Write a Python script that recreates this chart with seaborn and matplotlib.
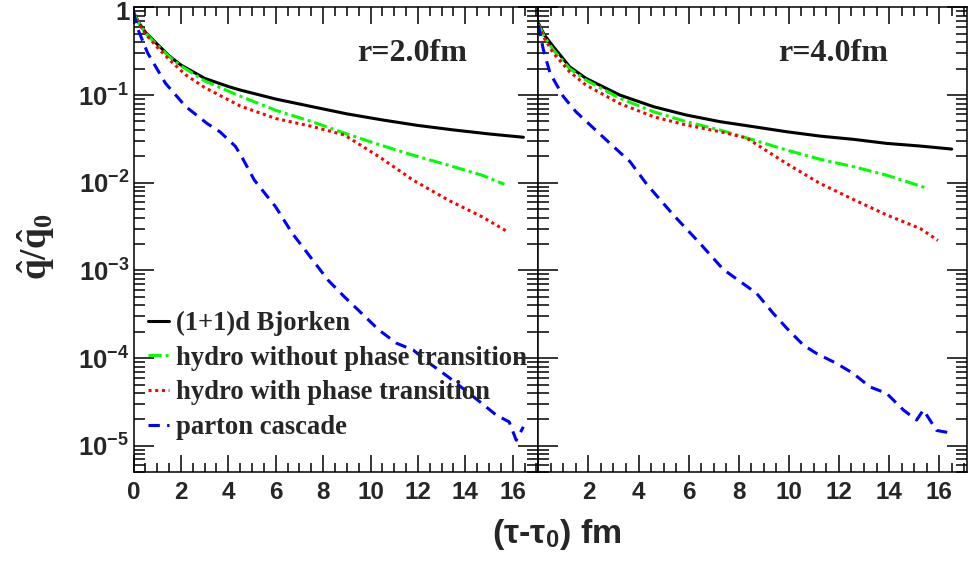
import numpy as np
import pandas as pd
import matplotlib
matplotlib.use("Agg")
import matplotlib.pyplot as plt
import matplotlib.ticker as mticker
import matplotlib.transforms as mtransforms
import seaborn as sns

# r = 2.0 fm panel
bj_t_r2 = [0, 0.25, 0.5, 1, 1.5, 2, 3, 4, 4.5, 6, 7.5, 9, 10.5, 12, 13.5, 15, 16.45]
bj_q_r2 = [0.88, 0.65, 0.52, 0.38, 0.28, 0.22, 0.155, 0.125, 0.114, 0.090, 0.074, 0.061,
           0.052, 0.045, 0.040, 0.036, 0.033]
nopt_t_r2 = [0, 0.25, 0.5, 1, 1.5, 2, 3, 4.5, 6, 7.5, 9, 10.4, 11.8, 13.3, 14.7, 15.65]
nopt_q_r2 = [0.86, 0.64, 0.51, 0.37, 0.275, 0.215, 0.145, 0.097, 0.067, 0.050, 0.036,
             0.027, 0.0206, 0.0158, 0.0122, 0.0096]
pt_t_r2 = [0, 0.25, 0.5, 1, 1.6, 2.2, 3, 4.5, 6, 7.5, 8.9, 10.4, 11.8, 13.3, 14.7, 15.75]
pt_q_r2 = [0.85, 0.63, 0.50, 0.35, 0.24, 0.17, 0.122, 0.075, 0.054, 0.044, 0.035,
           0.0195, 0.0107, 0.0063, 0.0041, 0.0028]
pc_t_r2 = [0, 0.17, 0.6, 1.35, 2.2, 3.1, 3.65, 4.3, 4.6, 5.1, 6, 6.7, 7.45, 8.2, 8.9, 9.5,
           10.35, 11.1, 11.8, 12.5, 13.25, 14, 14.7, 15.3, 15.85, 16.15, 16.45]
pc_q_r2 = [0.88, 0.575, 0.30, 0.136, 0.074, 0.0475, 0.038, 0.026, 0.019, 0.0107, 0.0053,
           0.00265, 0.00144, 7.8e-4, 5.0e-4, 3.5e-4, 2.1e-4, 1.48e-4, 1.24e-4, 8.7e-5,
           6.2e-5, 4.3e-5, 3.05e-5, 2.25e-5, 1.88e-5, 1.16e-5, 1.65e-5]

# r = 4.0 fm panel
bj_t_r4 = [0, 0.25, 0.6, 1.25, 1.9, 3.25, 4.6, 5.9, 7.25, 8.6, 9.9, 11.25, 12.6, 13.9, 15.25, 16.5]
bj_q_r4 = [0.66, 0.48, 0.356, 0.21, 0.155, 0.100, 0.0736, 0.0592, 0.0497, 0.0435, 0.0382,
           0.034, 0.0312, 0.0281, 0.0262, 0.0242]
nopt_t_r4 = [0, 0.25, 0.6, 1.25, 1.9, 3.25, 4.6, 5.9, 7.25, 8.6, 9.9, 11.25, 12.6, 13.9, 15.55]
nopt_q_r4 = [0.64, 0.46, 0.326, 0.20, 0.148, 0.092, 0.0645, 0.0497, 0.0399, 0.0307, 0.0236,
             0.0185, 0.0152, 0.0122, 0.0086]
pt_t_r4 = [0, 0.25, 0.6, 1.25, 1.9, 3.25, 4.6, 5.9, 7.25, 8.3, 8.6, 9.9, 11.25, 12.6, 13.9,
           15.25, 15.95]
pt_q_r4 = [0.62, 0.44, 0.30, 0.184, 0.13, 0.080, 0.0566, 0.0455, 0.0382, 0.0325, 0.0287,
           0.0166, 0.0098, 0.0064, 0.0043, 0.0030, 0.0022]
pc_t_r4 = [0, 0.2, 0.47, 1.0, 1.5, 2.86, 3.66, 4.33, 5.39, 6.45, 7.38, 8.71, 9.38, 9.92, 10.58,
           11.11, 11.91, 12.57, 13.24, 13.9, 14.57, 15.1, 15.37, 15.9, 16.43]
pc_q_r4 = [0.63, 0.33, 0.177, 0.096, 0.0645, 0.0281, 0.0174, 0.0096, 0.0043, 0.00204, 0.00103,
           5.5e-4, 3.24e-4, 2.19e-4, 1.41e-4, 1.13e-4, 8.7e-5, 6.7e-5, 4.7e-5, 3.98e-5,
           2.57e-5, 1.97e-5, 2.57e-5, 1.5e-5, 1.41e-5]

models = ["(1+1)d Bjorken", "hydro without phase transition",
          "hydro with phase transition", "parton cascade"]
panel_labels = ["r=2.0fm", "r=4.0fm"]
ytick_vals = [1, 1e-1, 1e-2, 1e-3, 1e-4, 1e-5]
ytick_text = ["1"] + [r"$\mathsf{10^{-%d}}$" % k for k in range(1, 6)]

colors = {models[0]: "black", models[1]: "#00ff00", models[2]: "#ff0000", models[3]: "#0000ff"}
dashes = {models[0]: "", models[1]: (4.3, 1.3, 1.0, 1.3), models[2]: (1.0, 1.2),
          models[3]: (3.7, 2.4)}


def make_frame(series):
    parts = []
    for name, (t, q) in zip(models, series):
        parts.append(pd.DataFrame({"t": t, "q": q, "model": name}))
    return pd.concat(parts, ignore_index=True)


df_r2 = make_frame([(bj_t_r2, bj_q_r2), (nopt_t_r2, nopt_q_r2), (pt_t_r2, pt_q_r2), (pc_t_r2, pc_q_r2)])
df_r4 = make_frame([(bj_t_r4, bj_q_r4), (nopt_t_r4, nopt_q_r4), (pt_t_r4, pt_q_r4), (pc_t_r4, pc_q_r4)])

sns.set_style("ticks")
plt.rcParams.update({
    "font.family": ["Liberation Sans", "DejaVu Sans"],
    "font.weight": "bold",
    "mathtext.fontset": "custom",
    "mathtext.sf": "Liberation Sans:bold",
    "mathtext.bf": "Liberation Serif:bold",
    "mathtext.rm": "Liberation Serif:bold",
    "mathtext.it": "Liberation Serif:bold:italic",
    "axes.linewidth": 1.1,
    "axes.edgecolor": "black",
})

fig = plt.figure(figsize=(9.69, 5.66), dpi=100)
W, H = 969.0, 566.0
bottom = 1 - 472.3 / H
height = (472.3 - 6.7) / H
ax1 = fig.add_axes([133.5 / W, bottom, (538.3 - 133.5) / W, height])
ax2 = fig.add_axes([538.3 / W, bottom, (966.7 - 538.3) / W, height])

for ax, df, lab, xmax, lx in [(ax1, df_r2, panel_labels[0], 17.08, 0.687),
                               (ax2, df_r4, panel_labels[1], 17.1, 0.689)]:
    sns.lineplot(data=df, x="t", y="q", hue="model", style="model", hue_order=models,
                 style_order=models, palette=colors, dashes=dashes, lw=2.2,
                 errorbar=None, legend=False, ax=ax, sort=False)
    ax.set_yscale("log")
    ax.set_xlim(0, xmax)
    ax.set_ylim(5e-6, 1.016)
    ax.set_xlabel("")
    ax.set_ylabel("")
    ax.xaxis.set_major_locator(mticker.MultipleLocator(2))
    ax.xaxis.set_minor_locator(mticker.MultipleLocator(0.5))
    ax.set_yticks(ytick_vals)
    ax.yaxis.set_minor_locator(mticker.LogLocator(base=10, subs=np.arange(2, 10), numticks=20))
    ax.yaxis.set_minor_formatter(mticker.NullFormatter())
    ax.tick_params(which="both", direction="in", top=True, right=True, width=1.1, color="black")
    ax.tick_params(axis="x", which="major", length=12.5, labelsize=17.5, pad=6)
    ax.tick_params(axis="x", which="minor", length=6.5)
    ax.tick_params(axis="y", which="major", length=14.5, labelsize=18.5, pad=3)
    ax.tick_params(axis="y", which="minor", length=8)
    for sp in ax.spines.values():
        sp.set_visible(True)
        sp.set_linewidth(1.1)
    ax.text(lx, 0.90, lab, transform=ax.transAxes, ha="center", va="center",
            fontsize=23, fontweight="bold", family="Liberation Serif")

ax1.set_yticklabels(ytick_text)
ax2.set_yticklabels([])
ax2.set_xticks(np.arange(0, 17, 2))
ax2.set_xticklabels([""] + [str(v) for v in range(2, 17, 2)])

# keep the top "1" label inside the canvas
top_label = ax1.yaxis.get_major_ticks()[0].label1
top_label.set_transform(top_label.get_transform()
                        + mtransforms.ScaledTranslation(0, -0.035, fig.dpi_scale_trans))

leg = ax1.legend(ax1.get_lines()[:4], models, loc="center left",
                 bbox_to_anchor=(0.035, 0.208), frameon=False, borderpad=0,
                 borderaxespad=0, handlelength=0.8, handletextpad=0.28,
                 labelspacing=0.36, prop={"family": "Liberation Serif", "weight": "bold", "size": 19.2})

fig.text(0.574, 1 - 535 / H, "(τ-τ$_\\mathsf{0}$) fm", ha="center", va="center",
         fontsize=24.5, fontweight="bold")
fig.text(0.037, 1 - 247 / H, r"$\mathbf{\hat{q}/\hat{q}_0}$", ha="center", va="center",
         rotation=90, fontsize=27)

fig.savefig("out.png", dpi=100)
